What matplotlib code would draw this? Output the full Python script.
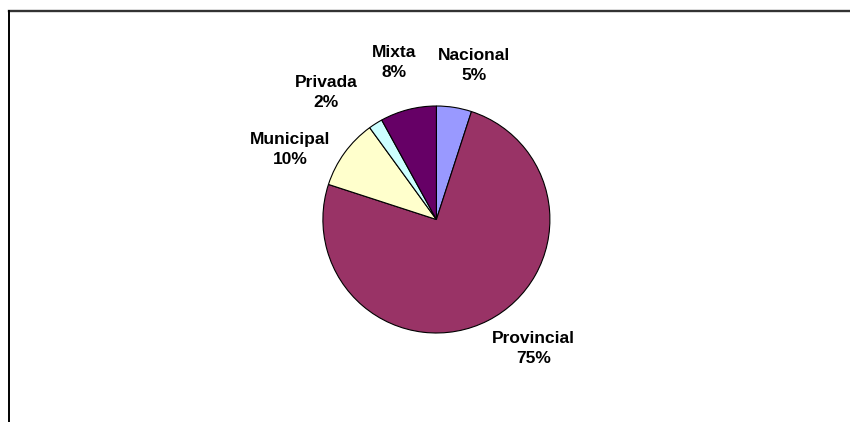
import matplotlib
matplotlib.use("Agg")
import matplotlib.pyplot as plt
from matplotlib.lines import Line2D

categories = ["Nacional", "Provincial", "Municipal", "Privada", "Mixta"]
values = [5, 75, 10, 2, 8]
pct_labels = ["5%", "75%", "10%", "2%", "8%"]
colors = ["#9999FF", "#993366", "#FFFFCC", "#CCFFFF", "#660066"]

W, H = 850, 422
fig = plt.figure(figsize=(W / 100, H / 100), dpi=100)
ax = fig.add_axes([0, 0, 1, 1])
ax.set_xlim(0, W)
ax.set_ylim(0, H)
ax.set_aspect("equal")
ax.axis("off")

cx, cy, r = 436.4, H - 219.5, 113.5
wedges, _ = ax.pie(values, colors=colors, startangle=90, counterclock=False,
                   center=(cx, cy), radius=r,
                   wedgeprops=dict(edgecolor="black", linewidth=0.8))
ax.set_xlim(0, W)
ax.set_ylim(0, H)

# label centre offsets (pixels from pie centre, y up)
label_offsets = [(38, 154), (97, -129), (-146, 70), (-110, 127), (-42, 157)]
for name, pct, (dx, dy) in zip(categories, pct_labels, label_offsets):
    ax.text(cx + dx, cy + dy, f"{name}\n{pct}", ha="center", va="center",
            fontsize=12.5, fontweight="bold", family="Liberation Sans",
            linespacing=1.45, color="black")

# partial frame
fig.add_artist(Line2D([9 / W, 1], [1 - 11 / H, 1 - 11 / H], transform=fig.transFigure,
                      color="#333333", linewidth=1.7))
fig.add_artist(Line2D([9 / W, 9 / W], [0, 1 - 11 / H], transform=fig.transFigure,
                      color="black", linewidth=1.4))

fig.savefig("out.png", dpi=100)
